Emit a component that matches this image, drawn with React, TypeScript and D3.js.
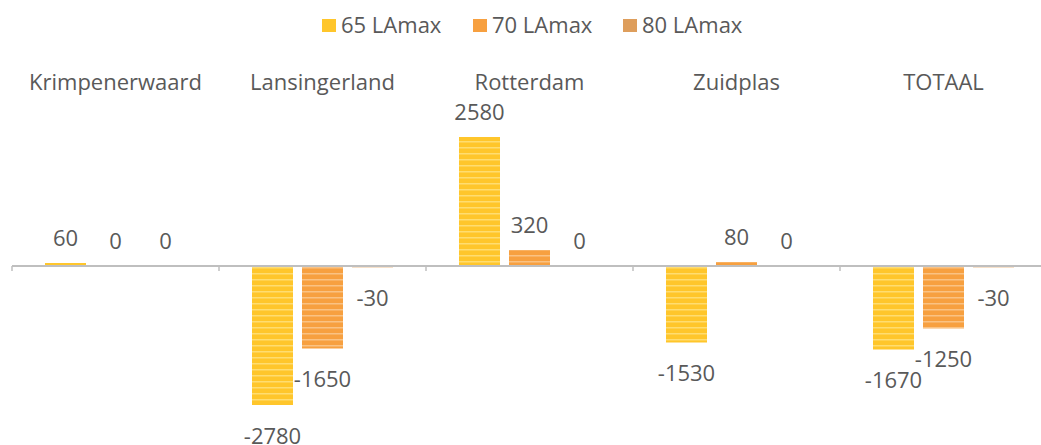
import { scaleBand, scaleLinear } from 'd3';

const categories = ['Krimpenerwaard', 'Lansingerland', 'Rotterdam', 'Zuidplas', 'TOTAAL'];
const seriesNames = ['65 LAmax', '70 LAmax', '80 LAmax'];
const values65 = [60, -2780, 2580, -1530, -1670];
const values70 = [0, -1650, 320, 80, -1250];
const values80 = [0, -30, 0, 0, -30];

const seriesValues = [values65, values70, values80];
const colors = ['#FFC62B', '#F7A040', '#DE9E5C'];
const stripeColors = ['#FFDD70', '#FAC283', '#EDC193'];

const width = 1041;
const height = 445;
const margin = { top: 116, right: -6, bottom: 29, left: 12 };
const font = '"Open Sans", "Noto Sans", sans-serif';
const textColor = '#595959';
const fontSize = 22;

export default function App() {
  const xScale = scaleBand<string>()
    .domain(categories)
    .range([margin.left, width - margin.right])
    .padding(0);

  const inner = scaleBand<string>()
    .domain(seriesNames)
    .range([0, xScale.bandwidth()])
    .paddingInner(0.18)
    .paddingOuter(0.66);

  const yScale = scaleLinear()
    .domain([-3000, 3000])
    .range([height - margin.bottom, margin.top]);

  const zero = yScale(0);
  const legendX = [322, 473, 623];

  return (
    <svg
      width={width}
      height={height}
      viewBox={`0 0 ${width} ${height}`}
      style={{ position: 'absolute', left: 0, top: 0, background: '#fff' }}
    >
      <defs>
        {colors.map((c, i) => (
          <pattern key={c} id={`stripe-${i}`} width="8" height="6" patternUnits="userSpaceOnUse">
            <rect width="8" height="6" fill={c} />
            <rect y="3" width="8" height="1.5" fill={stripeColors[i]} />
          </pattern>
        ))}
      </defs>

      {/* legend */}
      {seriesNames.map((name, i) => (
        <g key={name}>
          <rect x={legendX[i]} y={19} width={14} height={13} fill={colors[i]} />
          <text x={legendX[i] + 19} y={33} fontFamily={font} fontSize={fontSize} fill={textColor}>
            {name}
          </text>
        </g>
      ))}

      {/* category labels */}
      {categories.map(cat => (
        <text
          key={cat}
          x={(xScale(cat) ?? 0) + xScale.bandwidth() / 2}
          y={82}
          dy="0.35em"
          textAnchor="middle"
          fontFamily={font}
          fontSize={fontSize}
          fill={textColor}
        >
          {cat}
        </text>
      ))}

      {/* bars */}
      {categories.map((cat, ci) => (
        <g key={cat} transform={`translate(${xScale(cat)},0)`}>
          {seriesNames.map((name, si) => {
            const v = seriesValues[si][ci];
            const y = yScale(Math.max(0, v));
            const h = Math.abs(yScale(v) - zero);
            const bx = inner(name) ?? 0;
            const bw = inner.bandwidth();
            const labelY = v < 0 ? yScale(v) + 31 : yScale(v) - 25;
            return (
              <g key={name}>
                {h > 0 && <rect x={bx} y={y} width={bw} height={h} fill={`url(#stripe-${si})`} />}
                <text
                  x={bx + bw / 2}
                  y={labelY}
                  dy="0.35em"
                  textAnchor="middle"
                  fontFamily={font}
                  fontSize={fontSize}
                  fill={textColor}
                >
                  {v}
                </text>
              </g>
            );
          })}
        </g>
      ))}

      {/* axis */}
      <line x1={margin.left} x2={width} y1={zero} y2={zero} stroke="#BFBFBF" strokeWidth={2} />
      {categories.map(cat => (
        <line
          key={cat}
          x1={xScale(cat)}
          x2={xScale(cat)}
          y1={zero}
          y2={zero + 5}
          stroke="#BFBFBF"
          strokeWidth={1.5}
        />
      ))}
    </svg>
  );
}
